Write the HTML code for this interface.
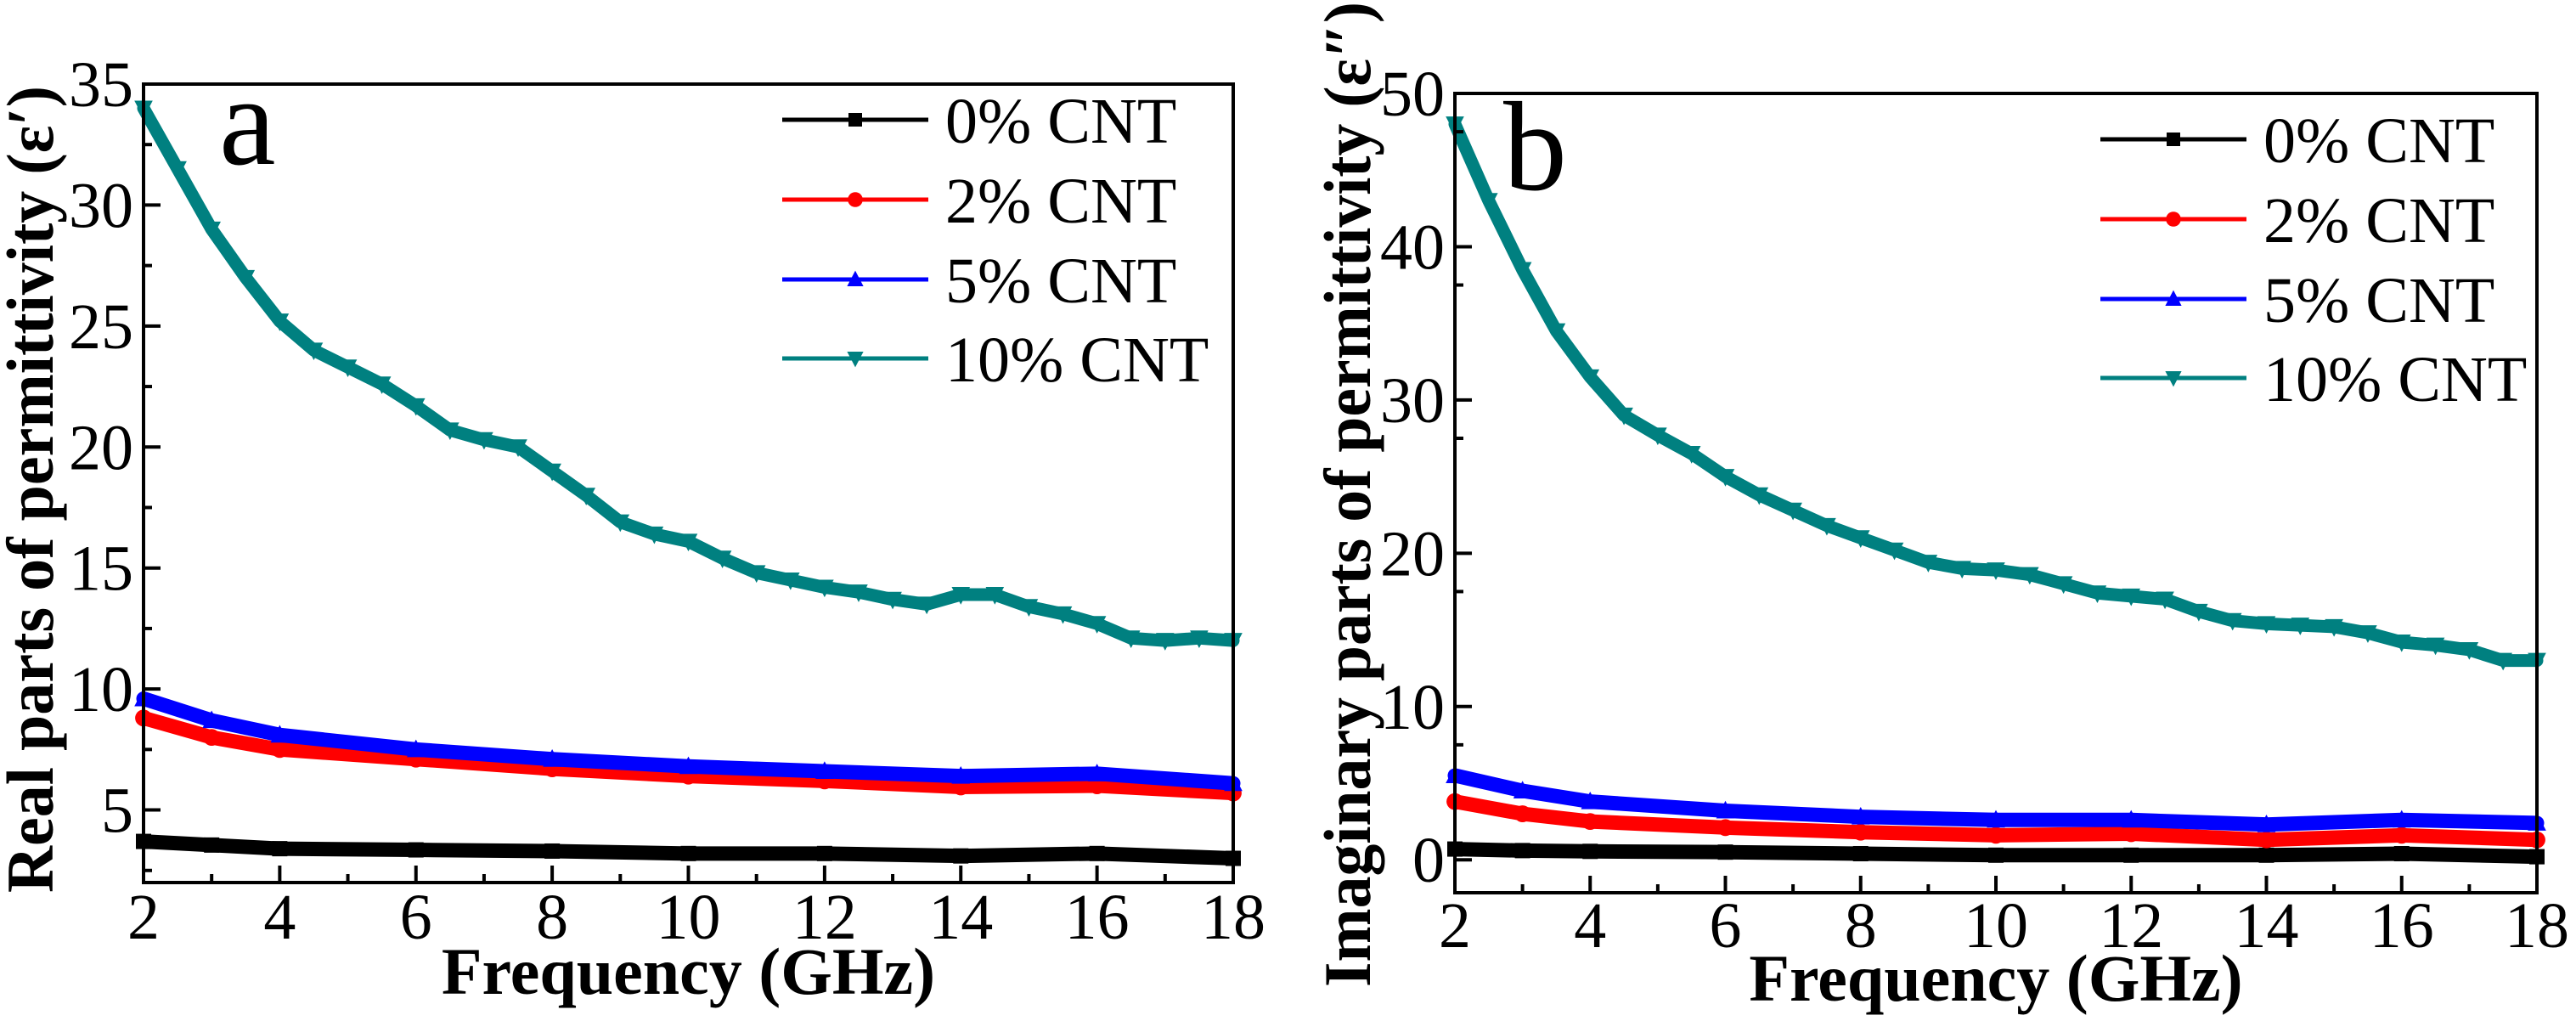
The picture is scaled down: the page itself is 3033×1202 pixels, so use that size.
<!DOCTYPE html>
<html><head><meta charset="utf-8">
<style>
html,body{margin:0;padding:0;background:#fff;}
svg{display:block;}
svg text{font-family:"Liberation Serif","Times New Roman","DejaVu Serif",serif;fill:#000;}
</style></head>
<body>
<svg id="fig" width="3033" height="1202" viewBox="0 0 3033 1202" xmlns="http://www.w3.org/2000/svg" font-family="Liberation Serif, DejaVu Serif, serif"></svg>
<script>
// ---- data ----
const freqA10 = [2,2.5,3,3.5,4,4.5,5,5.5,6,6.5,7,7.5,8,8.5,9,9.5,10,10.5,11,11.5,12,12.5,13,13.5,14,14.5,15,15.5,16,16.5,17,17.5,18];
const realA10 = [34,31.5,29,27,25.2,24,23.3,22.6,21.7,20.7,20.3,20,19,18,16.9,16.4,16.1,15.4,14.8,14.5,14.2,14.0,13.7,13.5,13.9,13.9,13.4,13.1,12.7,12.1,12.0,12.1,12.0];
const freqLow = [2,3,4,6,8,10,12,14,16,18];
const realA5 = [9.6,8.7,8.1,7.5,7.1,6.8,6.6,6.4,6.5,6.1];
const realA2 = [8.8,8.0,7.5,7.1,6.7,6.4,6.2,5.95,6.0,5.7];
const realA0 = [3.7,3.55,3.4,3.35,3.3,3.2,3.2,3.1,3.2,3.0];
const imagB10 = [48,43,38.5,34.5,31.5,29,27.7,26.5,25,23.8,22.8,21.8,21,20.2,19.4,19,18.9,18.6,18,17.4,17.2,17,16.2,15.6,15.4,15.3,15.2,14.8,14.2,14,13.7,13,13];
const imagB5 = [5.5,4.5,3.8,3.2,2.8,2.6,2.6,2.3,2.6,2.4];
const imagB2 = [3.8,3.0,2.5,2.1,1.8,1.6,1.7,1.3,1.6,1.3];
const imagB0 = [0.7,0.6,0.55,0.5,0.4,0.3,0.3,0.3,0.4,0.2];
const xTicks = [2,4,6,8,10,12,14,16,18];
const yTicksA = [5,10,15,20,25,30,35];
const yTicksB = [0,10,20,30,40,50];
const legendLabels = ["0% CNT","2% CNT","5% CNT","10% CNT"];
const colors = ["#000000","#ff0000","#0000ff","#008080"];

const NS="http://www.w3.org/2000/svg";
const FF='"Liberation Serif","Times New Roman","DejaVu Serif",serif';
const svg=document.getElementById('fig');
function mk(tag,attrs,parent){const e=document.createElementNS(NS,tag);for(const k in attrs)e.setAttribute(k,attrs[k]);if(tag==='text'){e.setAttribute('font-family',FF);e.style.fontFamily=FF;}(parent||svg).appendChild(e);return e;}

function marker(g,type,x,y,c,s){
  if(type===0) return mk('rect',{x:x-s,y:y-s,width:2*s,height:2*s,fill:c},g);
  if(type===1) return mk('circle',{cx:x,cy:y,r:s*1.1,fill:c},g);
  if(type===2) return mk('polygon',{points:`${x},${y-s*1.3} ${x-s*1.2},${y+s} ${x+s*1.2},${y+s}`,fill:c},g);
  return mk('polygon',{points:`${x},${y+s*1.3} ${x-s*1.2},${y-s} ${x+s*1.2},${y-s}`,fill:c},g);
}

function panel(o){
  const g=mk('g',{});
  
  
  const X=v=>o.x0+(v-2)/(16)*(o.x1-o.x0);
  const Y=v=>o.y1-(v-o.ymin)/(o.ymax-o.ymin)*(o.y1-o.y0);
  const series=[[freqLow,o.s0],[freqLow,o.s2],[freqLow,o.s5],[freqA10,o.s10]];
  series.forEach((s,i)=>{
    const pts=s[0].map((f,j)=>X(f)+','+Y(s[1][j])).join(' ');
    const p=mk('polyline',{points:pts,fill:'none',stroke:colors[i],'stroke-width':i===3?15:17,'stroke-linejoin':'round','stroke-linecap':'round'},g);
    
    
    s[0].forEach((f,j)=>{marker(g,i,X(f),Y(s[1][j]),colors[i],9);});
  });
  const fr=mk('rect',{x:o.x0,y:o.y0,width:o.x1-o.x0,height:o.y1-o.y0,fill:'none',stroke:'#000','stroke-width':4},g);
  
  
  xTicks.forEach(t=>{
    mk('line',{x1:X(t),x2:X(t),y1:o.y1,y2:o.y1-20,stroke:'#000','stroke-width':4},g);
    if(t<18) mk('line',{x1:X(t+1),x2:X(t+1),y1:o.y1,y2:o.y1-10,stroke:'#000','stroke-width':4},g);
    const tl=mk('text',{x:X(t),y:o.tickBase,'font-size':76,'text-anchor':'middle'},g);
    tl.textContent=t;
    
    
  });
  o.yTicks.forEach((t,i)=>{
    mk('line',{x1:o.x0,x2:o.x0+20,y1:Y(t),y2:Y(t),stroke:'#000','stroke-width':4},g);
    const m=t-o.ystep/2; if(m>o.ymin) mk('line',{x1:o.x0,x2:o.x0+10,y1:Y(m),y2:Y(m),stroke:'#000','stroke-width':4},g);
    const tl=mk('text',{x:o.x0-12,y:Y(t)+26,'font-size':76,'text-anchor':'end'},g);
    tl.textContent=t;
    
    
  });
  const xt=mk('text',{x:(o.x0+o.x1)/2,y:o.xTitleBase,'font-size':78,'font-weight':'bold','text-anchor':'middle'},g);
  xt.textContent='Frequency (GHz)';
  
  
  const yt=mk('text',{x:0,y:0,'font-size':78,'font-weight':'bold','text-anchor':'middle',textLength:o.yTitleLen,lengthAdjust:'spacingAndGlyphs',transform:`translate(${o.yTitleX},${o.yTitleY}) rotate(-90)`},g);
  yt.textContent=o.yTitle;
  
  
  const pl=mk('text',{x:o.labX,y:o.labY,'font-size':150},g);
  pl.textContent=o.label;
  
  
  legendLabels.forEach((l,i)=>{
    const ly=o.legY[i];
    const lg=mk('g',{},g);
    
    
    mk('line',{x1:o.legX,x2:o.legX+172,y1:ly,y2:ly,stroke:colors[i],'stroke-width':5},lg);
    marker(lg,i,o.legX+86,ly,colors[i],8);
    const t=mk('text',{x:o.legX+192,y:ly+27,'font-size':76},lg);
    t.textContent=l;
  });
}

panel({name:'panel-a-real',x0:169,x1:1452,y0:99,y1:1039,ymin:2,ymax:35,ystep:5,yTicks:yTicksA,
  s0:realA0,s2:realA2,s5:realA5,s10:realA10,tickBase:1105,xTitleBase:1170,
  yTitle:'Real parts of permittivity (\u03B5\u2032)',yTitleX:62,yTitleY:576,yTitleLen:950,
  label:'a',labX:258,labY:193,legX:921,legY:[141,235,329,422]});
panel({name:'panel-b-imaginary',x0:1713,x1:2987,y0:110,y1:1051,ymin:-2.15,ymax:50,ystep:5,yTicks:yTicksB,
  s0:imagB0,s2:imagB2,s5:imagB5,s10:imagB10,tickBase:1115,xTitleBase:1178,
  yTitle:'Imaginary parts of permittivity (\u03B5\u2033)',yTitleX:1613,yTitleY:582,yTitleLen:1160,
  label:'b',labX:1770,labY:223,legX:2473,legY:[164,258,352,445]});
</script>
</body></html>
